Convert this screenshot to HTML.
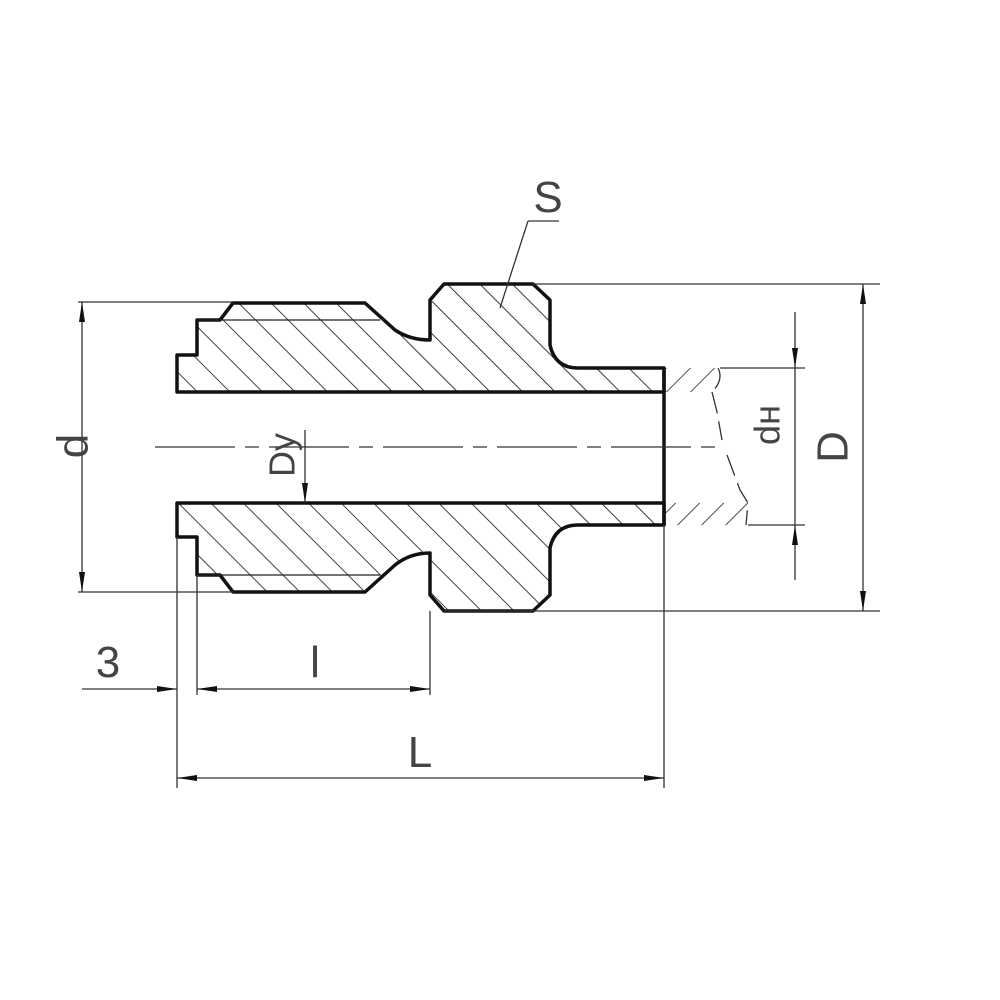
<!DOCTYPE html>
<html><head><meta charset="utf-8"><style>html,body{margin:0;padding:0;background:#fff}svg{display:block}</style></head>
<body>
<svg width="1000" height="1000" viewBox="0 0 1000 1000" xmlns="http://www.w3.org/2000/svg" font-family="Liberation Sans, sans-serif">
<defs>
<pattern id="h" patternUnits="userSpaceOnUse" width="23" height="23" patternTransform="rotate(-45)">
<line x1="0" y1="0" x2="0" y2="23" stroke="#111" stroke-width="1.6"/>
</pattern>
<pattern id="h2" patternUnits="userSpaceOnUse" width="17" height="17" patternTransform="rotate(45)">
<line x1="0" y1="0" x2="0" y2="17" stroke="#222" stroke-width="1.6"/>
</pattern>
<marker id="a" viewBox="0 0 20 8" refX="20" refY="4" markerWidth="20" markerHeight="8" markerUnits="userSpaceOnUse" orient="auto"><path d="M0,1 L20,4 L0,7z" fill="#111"/></marker>
</defs>
<path d="M177,392 L177,355 L197,355 L197,320 L220,320 L233,303 L365,303 L395,330 Q410,340 430,340 L430,300 L444,284 L533,284 L550,300 L550,345 Q555,368 578,368 L664,368 L664,392 Z" fill="url(#h)" stroke="#111" stroke-width="3.5" stroke-linejoin="round"/>
<path d="M177,503 L177,537 L197,537 L197,575 L220,575 L233,592 L365,592 L395,565 Q410,553 430,553 L430,595 L444,611 L533,611 L550,595 L550,548 Q555,525 578,525 L664,525 L664,503 Z" fill="url(#h)" stroke="#111" stroke-width="3.5" stroke-linejoin="round"/>
<line x1="197" y1="320" x2="380" y2="320" stroke="#222" stroke-width="1.3"/>
<line x1="197" y1="575" x2="380" y2="575" stroke="#222" stroke-width="1.3"/>
<line x1="664" y1="368" x2="664" y2="525" stroke="#111" stroke-width="3.5"/>
<path d="M664,368 L718,368 Q724,380 712,392 L664,392 Z" fill="url(#h2)" stroke="none"/>
<path d="M664,503 L748,503 Q750,515 745,525 L664,525 Z" fill="url(#h2)" stroke="none"/>
<path d="M718,368 Q724,380 712,392 M712,392 L717,412 L722,440 M727,455 L740,490 L748,503 L746,525" fill="none" stroke="#333" stroke-width="1.3" stroke-dasharray="22,8"/>
<line x1="155" y1="447" x2="718" y2="447" stroke="#333" stroke-width="1.3" stroke-dasharray="80,10,14,10"/>
<g stroke="#333" stroke-width="1.3" fill="none">
<line x1="78" y1="302" x2="233" y2="302"/>
<line x1="78" y1="592" x2="233" y2="592"/>
<line x1="82" y1="447" x2="82" y2="302" marker-end="url(#a)"/>
<line x1="82" y1="447" x2="82" y2="592" marker-end="url(#a)"/>
<line x1="533" y1="284" x2="880" y2="284"/>
<line x1="444" y1="611" x2="880" y2="611"/>
<line x1="863" y1="447" x2="863" y2="284" marker-end="url(#a)"/>
<line x1="863" y1="447" x2="863" y2="611" marker-end="url(#a)"/>
<line x1="720" y1="368" x2="805" y2="368"/>
<line x1="748" y1="525" x2="805" y2="525"/>
<line x1="795" y1="312" x2="795" y2="368" marker-end="url(#a)"/>
<line x1="795" y1="580" x2="795" y2="525" marker-end="url(#a)"/>
<line x1="795" y1="368" x2="795" y2="525"/>
<line x1="500" y1="308" x2="528" y2="221"/>
<line x1="528" y1="221" x2="559" y2="221"/>
<line x1="305" y1="430" x2="305" y2="503" marker-end="url(#a)"/>
<line x1="177" y1="537" x2="177" y2="788"/>
<line x1="197" y1="575" x2="197" y2="695"/>
<line x1="430" y1="611" x2="430" y2="695"/>
<line x1="664" y1="525" x2="664" y2="788"/>
<line x1="82" y1="689" x2="177" y2="689" marker-end="url(#a)"/>
<line x1="300" y1="689" x2="197" y2="689" marker-end="url(#a)"/>
<line x1="300" y1="689" x2="430" y2="689" marker-end="url(#a)"/>
<line x1="420" y1="778" x2="177" y2="778" marker-end="url(#a)"/>
<line x1="420" y1="778" x2="664" y2="778" marker-end="url(#a)"/>
</g>
<g fill="#444">
<text x="76" y="446" font-size="44" transform="rotate(-90 76 446)" text-anchor="middle" dominant-baseline="middle">d</text>
<text x="836" y="447" font-size="44" transform="rotate(-90 836 447)" text-anchor="middle" dominant-baseline="middle">D</text>
<text x="770" y="425" font-size="36" transform="rotate(-90 770 425)" text-anchor="middle" dominant-baseline="middle">dн</text>
<text x="285" y="455" font-size="36" transform="rotate(-90 285 455)" text-anchor="middle" dominant-baseline="middle">Dу</text>
<text x="548" y="212" font-size="44" text-anchor="middle">S</text>
<text x="108" y="677" font-size="44" text-anchor="middle">3</text>
<text x="315" y="677" font-size="44" text-anchor="middle">l</text>
<text x="420" y="767" font-size="44" text-anchor="middle">L</text>
</g>
</svg>
</body></html>
